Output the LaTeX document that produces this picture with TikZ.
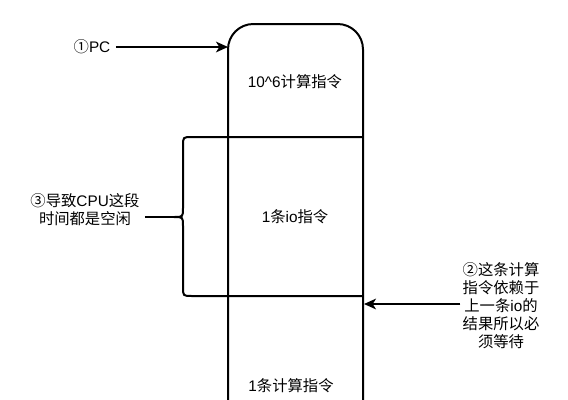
\documentclass[tikz,border=0pt]{standalone}
\usepackage{fontspec}
\setmainfont{Liberation Sans}
\newfontfamily\cjk{Noto Sans CJK SC}
\usetikzlibrary{arrows.meta}
\tikzset{
  link/.style={-{Stealth[length=9pt,width=8pt,inset=2.5pt]}},
}
\begin{document}
\begin{tikzpicture}[x=0.75pt,y=-0.75pt,line width=1.5pt,
    font=\fontsize{11.5}{13.5}\selectfont]
    \useasboundingbox (0,0) rectangle (568,400);
    \draw[rounded corners=19pt] (228,412) -- (228,24) -- (363,24) -- (363,412);
    \draw (363,137) -- (192,137) .. controls (183,137) .. (183,146) -- (183,208)
      .. controls (183,217) .. (174,217) .. controls (183,217) .. (183,226)
      -- (183,287) .. controls (183,296) .. (192,296) -- (363,296);
    \coordinate (tip) at (174,217);
    \coordinate (pcin) at (228,47);
    \coordinate (waitin) at (364,304);

    \node (compute) at (295,82) {10\textasciicircum 6{\cjk 计算指令}};
    \node (io) at (295,217) {1{\cjk 条}io{\cjk 指令}};
    \node (last) at (291,386) {1{\cjk 条计算指令}};

    \node (pc) at (92,47) {{\cjk ①}PC};
    \draw[link] (pc) -- (pcin);

    \node[align=center] (idle) at (85,210) {{\cjk ③导致}CPU{\cjk 这段}\\{\cjk 时间都是空闲}};
    \draw (idle.east |- tip) -- (tip);

    \node[align=center,inner sep=1pt] (wait) at (501,306)
      {{\cjk ②这条计算}\\{\cjk 指令依赖于}\\{\cjk 上一条}io{\cjk 的}\\{\cjk 结果所以必}\\{\cjk 须等待}};
    \draw[link] (wait.west |- waitin) -- (waitin);
\end{tikzpicture}
\end{document}
